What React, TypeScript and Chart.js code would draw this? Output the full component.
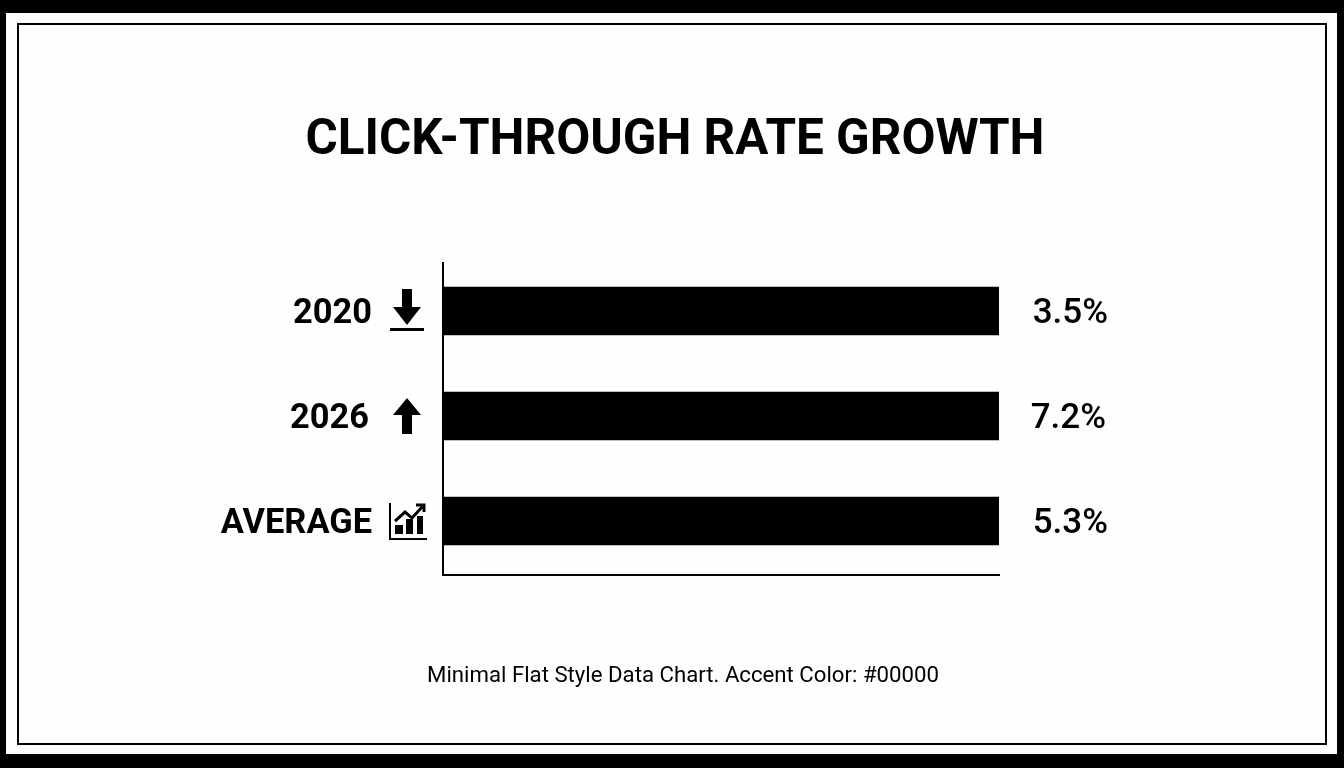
import React, { useEffect, useRef } from "react";
import { Chart, registerables } from "chart.js";

Chart.register(...registerables);

const titleText = "CLICK-THROUGH RATE GROWTH";
const footerText = "Minimal Flat Style Data Chart. Accent Color: #00000";
const categories = ["2020", "2026", "AVERAGE"];
const barLengths = [100, 100, 100];
const valueLabels = ["3.5%", "7.2%", "5.3%"];
const rowPositions = [0, 1, 2];
const labelNudge = [0, -3, 0];
const valueNudge = [0, -2, 0];

const FONT = "Roboto, sans-serif";
const INK = "#000000";
const PAPER = "#fefefe";

function drawDown(c: CanvasRenderingContext2D, y: number) {
  c.beginPath();
  c.moveTo(402, y - 22);
  c.lineTo(412, y - 22);
  c.lineTo(412, y - 4);
  c.lineTo(421, y - 4);
  c.lineTo(407, y + 14);
  c.lineTo(393, y - 4);
  c.lineTo(402, y - 4);
  c.closePath();
  c.fill();
  c.fillRect(390, y + 17, 34, 3);
}

function drawUp(c: CanvasRenderingContext2D, y: number) {
  c.beginPath();
  c.moveTo(407, y - 18);
  c.lineTo(421, y - 1);
  c.lineTo(412, y - 1);
  c.lineTo(412, y + 18);
  c.lineTo(402, y + 18);
  c.lineTo(402, y - 1);
  c.lineTo(393, y - 1);
  c.closePath();
  c.fill();
}

function drawTrend(c: CanvasRenderingContext2D, y: number) {
  c.fillRect(389, y - 18, 2, 37);
  c.fillRect(389, y + 17, 38, 2);
  c.fillRect(395, y + 4, 8, 9);
  c.fillRect(406, y - 2, 7, 15);
  c.fillRect(417, y - 5, 6, 18);
  c.lineWidth = 3;
  c.strokeStyle = INK;
  c.beginPath();
  c.moveTo(395, y);
  c.lineTo(405, y - 9);
  c.lineTo(412, y - 3);
  c.lineTo(423, y - 15);
  c.stroke();
  c.beginPath();
  c.moveTo(416, y - 16);
  c.lineTo(424, y - 16);
  c.lineTo(424, y - 9);
  c.stroke();
}

const icons = [drawDown, drawUp, drawTrend];

const framePlugin = {
  id: "frame",
  beforeDraw(chart: Chart) {
    const c = chart.ctx;
    c.save();
    c.fillStyle = INK;
    c.fillRect(0, 0, chart.width, chart.height);
    c.fillStyle = PAPER;
    c.fillRect(6, 13, 1331, 741);
    c.strokeStyle = INK;
    c.lineWidth = 2;
    c.strokeRect(18, 24, 1308, 720);
    c.restore();
  },
};

const annotatePlugin = {
  id: "annotate",
  afterDraw(chart: Chart) {
    const c = chart.ctx;
    const yScale = chart.scales.y;
    const xScale = chart.scales.x;
    c.save();
    c.fillStyle = INK;
    c.textBaseline = "middle";
    c.font = `700 49.4px ${FONT}`;
    c.textAlign = "center";
    c.fillText(titleText, 675, 142);
    rowPositions.forEach((pos, i) => {
      const y = yScale.getPixelForValue(pos);
      c.font = `700 34.4px ${FONT}`;
      c.textAlign = "right";
      c.fillText(categories[i], 372 + labelNudge[i], y + 3);
      icons[i](c, y);
      c.fillStyle = INK;
      c.font = `500 35px ${FONT}`;
      c.textAlign = "right";
      c.fillText(valueLabels[i], xScale.getPixelForValue(barLengths[i]) + 109 + valueNudge[i], y + 3);
    });
    c.font = `400 22.2px ${FONT}`;
    c.textAlign = "center";
    c.fillText(footerText, 683, 676);
    c.restore();
  },
};

export default function App() {
  const ref = useRef<HTMLCanvasElement>(null);
  useEffect(() => {
    if (!ref.current) return;
    const chart = new Chart(ref.current, {
      type: "bar",
      data: {
        labels: categories,
        datasets: [
          {
            label: "Click-through rate",
            data: rowPositions.map((pos, i) => ({ x: barLengths[i], y: pos })),
            backgroundColor: INK,
            borderWidth: 0,
            barThickness: 48,
          },
        ],
      },
      options: {
        indexAxis: "y",
        animation: false,
        responsive: false,
        layout: { padding: { left: 435, right: 345, bottom: 185, top: 263 } },
        plugins: {
          legend: { display: false },
          tooltip: { enabled: false },
          title: { display: false },
        },
        scales: {
          x: {
            type: "linear",
            min: 0,
            max: 100,
            grid: { display: false },
            ticks: { display: false },
            border: { display: true, color: INK, width: 2 },
          },
          y: {
            type: "linear",
            offset: false,
            bounds: "data",
            reverse: true,
            min: -0.457,
            max: 2.514,
            grid: { display: false, offset: false },
            ticks: { display: false },
            border: { display: true, color: INK, width: 2 },
          },
        },
      },
      plugins: [framePlugin, annotatePlugin],
    } as any);
    return () => chart.destroy();
  }, []);
  return (
    <div style={{ position: "fixed", left: 0, top: 0, width: 1344, height: 768, overflow: "hidden" }}>
      <canvas ref={ref} width={1344} height={768} style={{ display: "block" }} />
    </div>
  );
}
